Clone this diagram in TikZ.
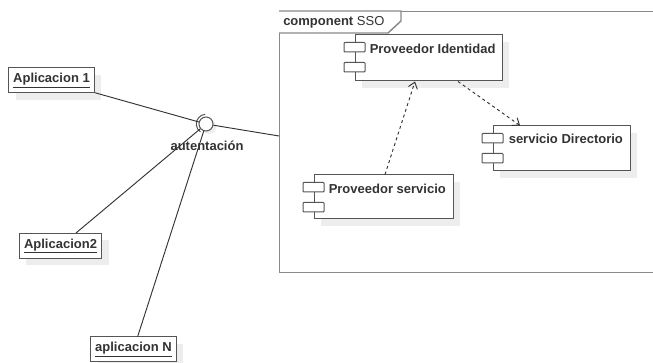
\documentclass[tikz,border=0pt]{standalone}
\usepackage{fontspec}
\setmainfont{Liberation Sans}
\usetikzlibrary{arrows.meta,shadows,calc}
\definecolor{txt}{HTML}{333333}
\definecolor{boxline}{HTML}{555555}
\definecolor{frameline}{HTML}{8A8A8A}
\definecolor{shade}{HTML}{EDEDED}
\begin{document}
\begin{tikzpicture}[x=0.75pt,y=0.75pt,
  every node/.style={font=\fontsize{9.75}{11.7}\selectfont\bfseries, text=txt},
  shad/.style={general shadow={shadow xshift=5.25pt, shadow yshift=-5.25pt, fill=shade}},
  appbox/.style={draw=boxline, fill=white, line width=0.75pt, minimum height=18.75pt, inner xsep=3.5pt, inner ysep=0pt, shad},
  compbox/.style={draw=boxline, fill=white, line width=0.75pt, inner sep=0pt, shad},
  comptext/.style={anchor=west, inner sep=0pt},
  iconrect/.style={draw=boxline, fill=white, line width=0.75pt, rounded corners=0.6pt},
  link/.style={draw=txt, line width=0.7pt},
  dep/.style={draw=txt, line width=0.7pt, dash pattern=on 2.25pt off 2.25pt, -{Straight Barb[length=4.5pt,width=7pt]}},
]
\useasboundingbox (0,0) rectangle (653,363);
\clip (0,0) rectangle (653,363);
\fill[white] (0,0) rectangle (653,363);

% package frame
\node[draw=frameline, line width=1.1pt, anchor=north west, minimum width={430*0.75pt}, minimum height={261*0.75pt}, inner sep=0pt] (sso) at (279,352) {};
\draw[frameline, line width=1.1pt, fill=white] (sso.north west) -- (401,352) -- (401,342) -- (388,330) -- (279,330);
\node[anchor=west, inner sep=0pt] (tablabel) at (283,341) {component \mdseries SSO};

% components
\node[compbox, minimum width={147*0.75pt}, minimum height={46*0.75pt}] (pi) at (428.5,305) {};
\node[compbox, minimum width={137*0.75pt}, minimum height={45*0.75pt}] (sd) at (561.5,214.5) {};
\node[compbox, minimum width={139*0.75pt}, minimum height={44*0.75pt}] (ps) at (383.5,166) {};

\foreach \b in {pi,sd,ps}{
  \draw[iconrect] ([shift={(-10.5,-8)}]\b.north west) rectangle ++(21,-9.5);
  \draw[iconrect] ([shift={(-10.5,-28)}]\b.north west) rectangle ++(21,-9.5);
}
\node[comptext] (pitext) at ([shift={(15,-14)}]pi.north west) {Proveedor Identidad};
\node[comptext] (sdtext) at ([shift={(16,-13)}]sd.north west) {servicio Directorio};
\node[comptext] (pstext) at ([shift={(15,-14)}]ps.north west) {Proveedor servicio};

% applications
\node[appbox] (app1) at (51.5,282.5) {\underline{Aplicacion 1}};
\node[appbox] (app2) at (60.5,117) {\underline{Aplicacion2}};
\node[appbox] (appN) at (133.5,13.5) {\underline{aplicacion N}};

% interface
\node[circle, draw=boxline, fill=white, line width=0.75pt, minimum size=10.5pt, inner sep=0pt,
  general shadow={shadow xshift=2.25pt, shadow yshift=-2.25pt, fill=shade}] (iface) at (206,239) {};
\draw[boxline, line width=0.75pt] ([shift={(95:7.3pt)}]iface.center) arc[start angle=95, end angle=235, radius=7.3pt];
\node (ifacelabel) at (207,217) {autentación};
\coordinate (ssoedge) at (279,227);

\draw[link] (app1) -- (iface);
\draw[link] (app2) -- (iface);
\draw[link] (appN) -- (iface);
\draw[link] (iface) -- (ssoedge);

% dependencies
\draw[dep] ([shift={(1.5,0)}]ps.north) -- ([shift={(-13.5,0)}]pi.south);
\draw[dep] ([shift={(29.5,0)}]pi.south) -- ([shift={(-41.5,0)}]sd.north);
\end{tikzpicture}
\end{document}
